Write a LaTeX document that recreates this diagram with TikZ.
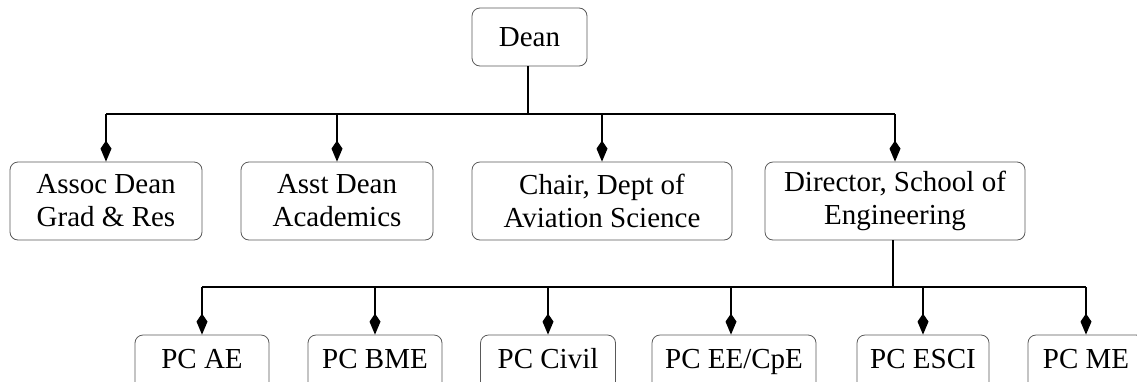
\documentclass[tikz,border=0pt]{standalone}
\usepackage{fontspec}
\setmainfont{Liberation Serif}
\usetikzlibrary{arrows.meta}
\begin{document}
\begin{tikzpicture}[x=1pt, y=-1pt,
  box/.style={draw=black!65, line width=0.8pt, rounded corners=8pt,
    align=center, inner sep=0pt, font=\fontsize{29}{33}\selectfont},
  pcbox/.style={box, minimum height=58pt, text height=15pt, text depth=7pt},
  conn/.style={draw=black, line width=1.1pt},
  arr/.style={conn, -{Kite[length=21pt,width=11pt,inset=8pt]}}]
  \useasboundingbox (0,0) rectangle (1137,381);

  % top
  \node[box, minimum width=115pt, minimum height=58pt] (dean) at (529.5,37) {Dean};

  % second row
  \node[box, minimum width=192pt, minimum height=78pt] (assoc) at (106,201) {Assoc Dean\\Grad \& Res};
  \node[box, minimum width=192pt, minimum height=78pt] (asst) at (337,201) {Asst Dean\\Academics};
  \node[box, minimum width=260pt, minimum height=78pt] (chair) at (602,201) {Chair, Dept of\\Aviation Science};
  \node[box, minimum width=260pt, minimum height=78pt] (dir) at (895,201) {Director, School of\\Engineering};

  % program coordinators
  \node[pcbox, minimum width=134pt] (ae) at (202,364) {PC AE};
  \node[pcbox, minimum width=134pt] (bme) at (375,364) {PC BME};
  \node[pcbox, minimum width=135pt] (civil) at (548,364) {PC Civil};
  \node[pcbox, minimum width=164pt] (ee) at (734,364) {PC EE/CpE};
  \node[pcbox, minimum width=132pt] (esci) at (923,364) {PC ESCI};
  \node[pcbox, minimum width=116pt] (me) at (1086,364) {PC ME};

  % bus from the dean
  \coordinate (bus1) at (528,114);
  \draw[conn] (dean.south -| bus1) -- (bus1);
  \draw[conn] (assoc.north |- bus1) -- (dir.north |- bus1);
  \foreach \n in {assoc,asst,chair,dir}
    \draw[arr] (\n.north |- bus1) -- (\n.north);

  % bus from the director
  \coordinate (bus2) at (893,287);
  \draw[conn] (dir.south -| bus2) -- (bus2);
  \draw[conn] (ae.north |- bus2) -- (me.north |- bus2);
  \foreach \n in {ae,bme,civil,esci,me}
    \draw[arr] (\n.north |- bus2) -- (\n.north);
  \draw[arr] (731,287) -- (ee.north -| 731,0);
\end{tikzpicture}
\end{document}
